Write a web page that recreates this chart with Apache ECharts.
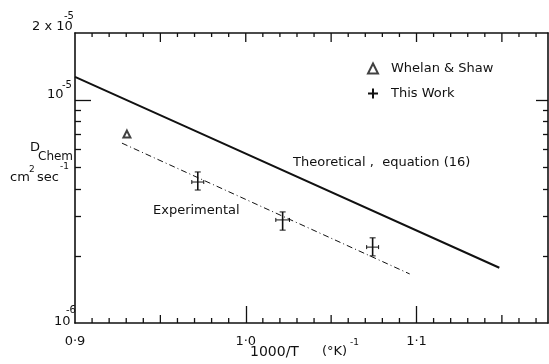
<!DOCTYPE html>
<html>
<head>
<meta charset="utf-8">
<script src="https://cdn.jsdelivr.net/npm/echarts@6/dist/echarts.min.js"></script>
<style>
  html, body { margin: 0; padding: 0; background: #fff; }
  #chart { width: 549px; height: 364px; }
</style>
</head>
<body>
<div id="chart"></div>
<script>
// 1000/T (°K^-1) and D chem (cm2 sec-1)
const theoryX = [0.9, 0.9655, 1.1485]
const theoryD = [1.27e-5, 7.57e-6, 1.77e-6]
const exptX = [0.9275, 1.096]
const exptD = [6.41e-6, 1.66e-6]
const whelanX = [0.9304]
const whelanD = [7.04e-6]
const workX = [0.9719, 1.0216, 1.0743]
const workD = [4.29e-6, 2.90e-6, 2.19e-6]
const workDLow = [3.95e-6, 2.61e-6, 2.00e-6]
const workDHigh = [4.76e-6, 3.15e-6, 2.41e-6]
const workXErr = [0.0035, 0.004, 0.0035]

// ticks
const xLabelValues = [0.9, 1.0, 1.1]
const xTickLabels = ['0·9', '1·0', '1·1']
const xMajorTicks = [1.0, 1.1]
const xMidTicks = [0.95, 1.05, 1.15]
const xTopMidTicks = [0.95, 1.0, 1.05, 1.1, 1.15]
const yMajorTicks = [1e-5]
const yMinorTicks = [2e-6, 3e-6, 4e-6, 5e-6, 6e-6, 7e-6, 8e-6, 9e-6]

const X_MIN = 0.9
const X_MAX = 1.177
const Y_MIN = 1e-6
const Y_MAX = 2e-5
const FONT = 'DejaVu Sans'
const INK = '#111'

// minor ticks every 0.01 that are not on a 0.05 step
const xMinorTicks = []
for (let i = 91; i <= 117; i++) {
  if (i % 5 !== 0) xMinorTicks.push(i / 100)
}

const chart = echarts.init(document.getElementById('chart'))

function yAxis(position, ticks, len, showLine) {
  return {
    type: 'log',
    position: position,
    min: Y_MIN,
    max: Y_MAX,
    axisLine: { show: showLine, onZero: false, lineStyle: { color: INK, width: 1.6 } },
    axisTick: { show: true, inside: true, length: len, customValues: ticks, lineStyle: { color: INK, width: 1.3 } },
    axisLabel: { show: false },
    splitLine: { show: false }
  }
}

function txt(text, x, y, size) {
  return {
    type: 'text',
    x: x,
    y: y,
    silent: true,
    style: { text: text, fontFamily: FONT, fontSize: size, fill: INK, align: 'left', verticalAlign: 'middle' }
  }
}

const labels = [
  // y axis labels
  txt('2 x 10', 32, 27, 13),
  txt('-5', 64, 16, 10),
  txt('10', 47, 95, 13),
  txt('-5', 62, 85, 10),
  txt('10', 54, 322, 13),
  txt('-6', 66, 310, 10),
  // y axis title
  txt('D', 30, 148, 13),
  txt('Chem', 38, 157, 12),
  txt('cm', 10, 178, 13),
  txt('2', 29, 170, 9),
  txt('sec', 37, 178, 13),
  txt('-1', 60, 167, 9),
  // x axis title
  txt('1000/T', 250, 352, 14),
  txt('(°K)', 322, 352, 13),
  txt('-1', 350, 343, 9),
  // curve labels
  txt('Theoretical ,  equation (16)', 293, 163, 13),
  txt('Experimental', 153, 211, 13)
]

const option = {
  animation: false,
  backgroundColor: '#fff',
  grid: { left: 75, right: 1, top: 33, bottom: 41 },
  xAxis: [
    {
      type: 'value',
      position: 'bottom',
      min: X_MIN,
      max: X_MAX,
      axisLine: { onZero: false, lineStyle: { color: INK, width: 1.6 } },
      axisTick: { inside: true, length: 17, customValues: xMajorTicks, lineStyle: { color: INK, width: 1.3 } },
      axisLabel: {
        customValues: xLabelValues,
        margin: 12,
        fontFamily: FONT,
        fontSize: 13,
        color: INK,
        formatter: (v) => xTickLabels[xLabelValues.findIndex(t => Math.abs(t - v) < 1e-6)]
      },
      splitLine: { show: false }
    },
    {
      type: 'value',
      position: 'top',
      min: X_MIN,
      max: X_MAX,
      axisLine: { onZero: false, lineStyle: { color: INK, width: 1.6 } },
      axisTick: { show: false },
      axisLabel: { show: false },
      splitLine: { show: false }
    }
  ],
  yAxis: [
    yAxis('left', yMajorTicks, 16, true),
    yAxis('left', yMinorTicks, 6, false),
    yAxis('right', yMajorTicks, 12, true),
    yAxis('right', yMinorTicks, 5, false)
  ],
  legend: {
    orient: 'vertical',
    left: 362,
    top: 57,
    itemWidth: 10,
    itemHeight: 10,
    itemGap: 12,
    textStyle: { fontFamily: FONT, fontSize: 13, color: INK, padding: [0, 0, 0, 8] },
    data: [
      { name: 'Whelan & Shaw' },
      { name: 'This Work', icon: 'path://M4,0H6V10H4Z M0,4H10V6H0Z' }
    ]
  },
  series: [
    {
      name: 'Theoretical',
      type: 'line',
      data: theoryX.map((x, i) => [x, theoryD[i]]),
      showSymbol: false,
      lineStyle: { color: INK, width: 2 }
    },
    {
      name: 'Experimental',
      type: 'line',
      data: exptX.map((x, i) => [x, exptD[i]]),
      showSymbol: false,
      lineStyle: { color: INK, width: 1, type: [6, 3, 1, 3] }
    },
    {
      name: 'Whelan & Shaw',
      type: 'scatter',
      data: whelanX.map((x, i) => [x, whelanD[i]]),
      symbol: 'triangle',
      symbolSize: 7,
      itemStyle: { color: '#fff', borderColor: INK, borderWidth: 2 }
    },
    {
      name: 'This Work',
      type: 'custom',
      data: workX.map((x, i) => [x, workD[i], workXErr[i], workDLow[i], workDHigh[i]]),
      itemStyle: { color: INK },
      renderItem: function (params, api) {
        const x = api.value(0)
        const y = api.value(1)
        const xe = api.value(2)
        const top = api.coord([x, api.value(4)])
        const bot = api.coord([x, api.value(3)])
        const l = api.coord([x - xe, y])
        const r = api.coord([x + xe, y])
        const bold = { stroke: INK, lineWidth: 1.6 }
        const thin = { stroke: INK, lineWidth: 1 }
        return {
          type: 'group',
          children: [
            { type: 'line', shape: { x1: top[0], y1: top[1], x2: bot[0], y2: bot[1] }, style: bold },
            { type: 'line', shape: { x1: top[0] - 3, y1: top[1], x2: top[0] + 3, y2: top[1] }, style: thin },
            { type: 'line', shape: { x1: bot[0] - 3, y1: bot[1], x2: bot[0] + 3, y2: bot[1] }, style: thin },
            { type: 'line', shape: { x1: l[0], y1: l[1], x2: r[0], y2: r[1] }, style: thin },
            { type: 'line', shape: { x1: l[0], y1: l[1] - 2, x2: l[0], y2: l[1] + 2 }, style: thin },
            { type: 'line', shape: { x1: r[0], y1: r[1] - 2, x2: r[0], y2: r[1] + 2 }, style: thin }
          ]
        }
      }
    }
  ],
  graphic: labels
}

chart.setOption(option)

// the grid only takes two x axes, so the other x ticks are drawn
// after layout, placed with the chart's own x scale
const yBottom = chart.convertToPixel({ yAxisIndex: 0 }, Y_MIN)
const yTop = chart.convertToPixel({ yAxisIndex: 0 }, Y_MAX)
const tickLines = []
function addTicks(values, y0, len, dir) {
  values.forEach(v => {
    const px = chart.convertToPixel({ xAxisIndex: 0 }, v)
    tickLines.push({
      type: 'line',
      silent: true,
      shape: { x1: px, y1: y0, x2: px, y2: y0 + dir * len },
      style: { stroke: INK, lineWidth: 1.3 }
    })
  })
}
addTicks(xMidTicks, yBottom, 8, -1)
addTicks(xMinorTicks, yBottom, 5, -1)
addTicks(xTopMidTicks, yTop, 9, 1)
addTicks(xMinorTicks, yTop, 4, 1)

chart.setOption({ graphic: labels.concat(tickLines) })
</script>
</body>
</html>
